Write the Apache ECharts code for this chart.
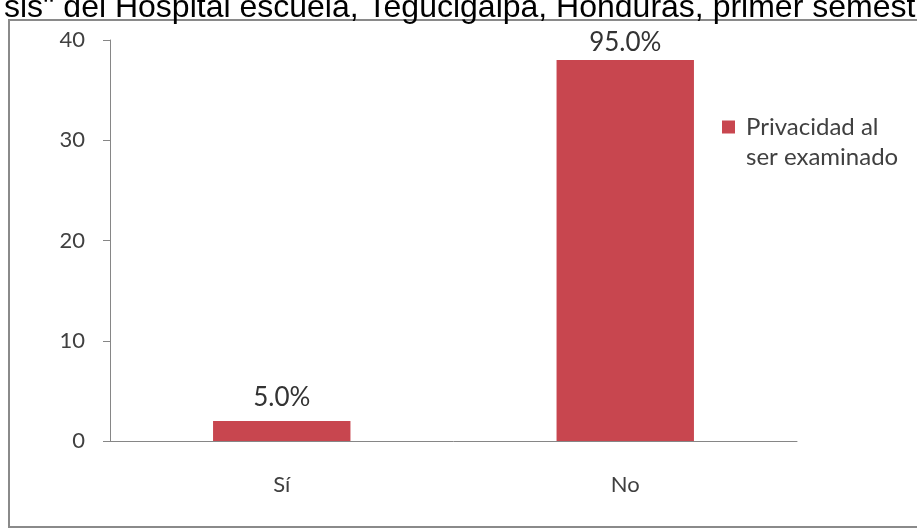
<!DOCTYPE html>
<html>
<head>
<meta charset="utf-8">
<script src="https://cdn.jsdelivr.net/npm/echarts@6/dist/echarts.min.js"></script>
<style>
html,body{margin:0;padding:0;background:#fff;}
#c{width:917px;height:529px;}
</style>
</head>
<body>
<div id="c"></div>
<script>
var titleText = 'sis" del Hospital escuela, Tegucigalpa, Honduras, primer semestre';
var categories = ['Sí', 'No'];
var values = [2, 38];
var valueLabels = ['5.0%', '95.0%'];
var seriesName = 'Privacidad al ser examinado';
var legendLines = ['Privacidad al', 'ser examinado'];
var yTicks = [0, 10, 20, 30, 40];

var labelDistances = [10, 4];

var chart = echarts.init(document.getElementById('c'), null, {renderer: 'canvas'});
var option = {
  backgroundColor: '#ffffff',
  animation: false,
  grid: {left: 110, right: 120, top: 40, bottom: 88},
  graphic: [
    {type: 'rect', shape: {x: 9, y: 20, width: 940, height: 507},
     style: {fill: 'none', stroke: '#8a8a8a', lineWidth: 2}, z: 0},
    {type: 'text', x: 0, y: 0,
     style: {text: titleText, x: 4, y: -8, font: '32px "Liberation Sans", Arial, sans-serif',
             fill: '#000'}, z: 10}
  ],
  legend: {
    left: 722, top: 82, padding: 0,
    icon: 'rect', itemWidth: 13, itemHeight: 13,
    data: [seriesName],
    formatter: function () {
      return ' \n' + legendLines.map(function (l) { return '{p|' + l + '}'; }).join('\n');
    },
    textStyle: {
      fontFamily: 'Lato', fontSize: 24, color: '#404040', lineHeight: 30,
      rich: {p: {fontFamily: 'Lato', fontSize: 24, color: '#404040', lineHeight: 30, padding: [0, 0, 0, 6]}}
    }
  },
  xAxis: {
    type: 'category', data: categories,
    axisLine: {lineStyle: {color: '#868686', width: 1}},
    axisTick: {show: false},
    axisLabel: {fontFamily: 'Lato', fontSize: 22, color: '#404040', margin: 33}
  },
  yAxis: {
    type: 'value', min: yTicks[0], max: yTicks[yTicks.length - 1], interval: 10,
    axisLine: {show: true, lineStyle: {color: '#868686', width: 1}},
    axisTick: {show: true, length: 7, lineStyle: {color: '#868686'}},
    splitLine: {show: false},
    axisLabel: {fontFamily: 'Lato', fontSize: 22, color: '#404040', margin: 25}
  },
  series: [{
    name: seriesName,
    type: 'bar',
    data: values.map(function (v, i) {
      return {value: v, label: {distance: labelDistances[i]}};
    }),
    barWidth: '40%',
    itemStyle: {color: '#C8464F'},
    label: {
      show: true, position: 'top',
      fontFamily: 'Lato', fontSize: 26, color: '#333333',
      formatter: function (p) { return valueLabels[p.dataIndex]; }
    }
  }]
};
chart.setOption(option);
</script>
</body>
</html>
